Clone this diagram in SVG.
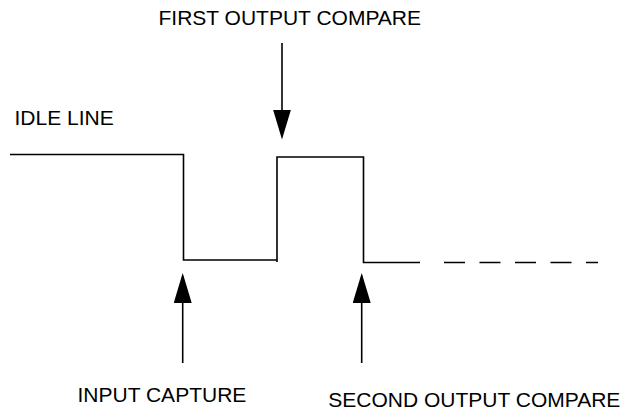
<svg xmlns="http://www.w3.org/2000/svg" width="626" height="411" viewBox="0 0 626 411">
  <style>
    .lbl { font-family: "Liberation Sans", Arial, sans-serif; font-size: 21px; fill: #000; }
    .wave { fill: none; stroke: #000; stroke-width: 1.6; }
    .dash { fill: none; stroke: #000; stroke-width: 1.6; stroke-dasharray: 21 14.5; }
    .ptr { fill: none; stroke: #000; stroke-width: 1.6; marker-end: url(#head); }
  </style>
  <defs>
    <marker id="head" markerUnits="userSpaceOnUse" viewBox="0 0 30 18" markerWidth="30" markerHeight="18" refX="27" refY="9" orient="auto">
      <path d="M0,0 L30,9 L0,18 Z" fill="#000"/>
    </marker>
  </defs>

  <rect width="626" height="411" fill="#fff"/>

  <!-- signal waveform -->
  <g id="waveform">
    <path class="wave" d="M10,154.5 H183.5 V260 H277"/>
    <path class="wave" d="M277,262 V157 H363.5 V262.5 H420"/>
    <path class="dash" d="M444,262.5 H598"/>
  </g>

  <!-- event pointers -->
  <g id="connectors">
    <path class="ptr" d="M282,43 V136.5"/>
    <path class="ptr" d="M182.7,363 V276"/>
    <path class="ptr" d="M361.7,363 V276"/>
  </g>

  <g id="idle-line"><text class="lbl" x="14.5" y="125">IDLE LINE</text></g>
  <g id="first-output-compare"><text class="lbl" x="158.5" y="25.3">FIRST OUTPUT COMPARE</text></g>
  <g id="input-capture"><text class="lbl" x="77.5" y="401.7">INPUT CAPTURE</text></g>
  <g id="second-output-compare"><text class="lbl" x="328.3" y="406.7">SECOND OUTPUT COMPARE</text></g>
</svg>
